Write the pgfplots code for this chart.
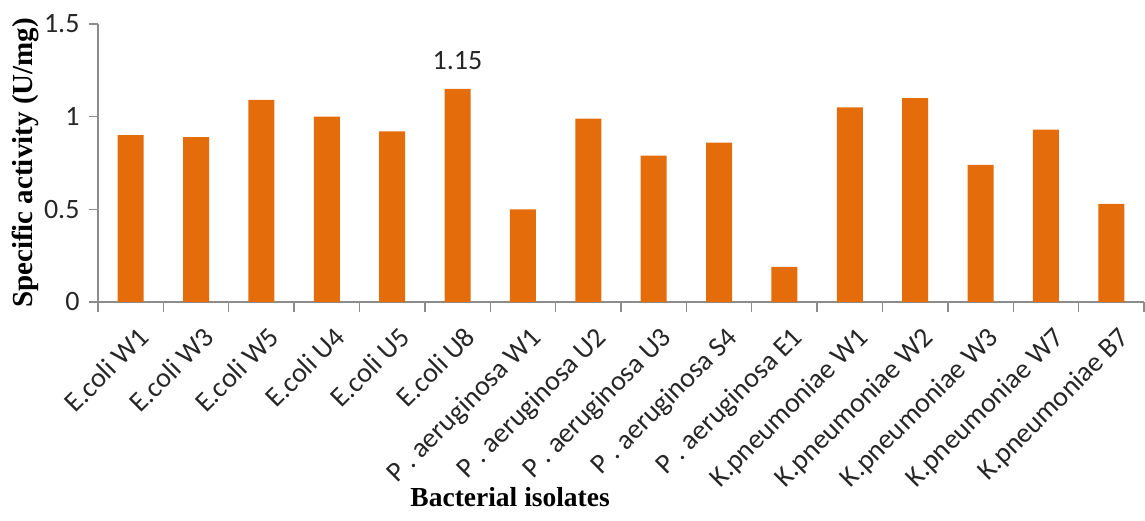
\documentclass[border=0pt]{standalone}
\usepackage{pgfplots}
\pgfplotsset{compat=1.18}
\usepackage{fontspec}
\setmainfont{Carlito}
\newfontfamily\titlefont{Liberation Serif}
\definecolor{barorange}{HTML}{E46C0A}
\definecolor{axisgray}{HTML}{8C8C8C}
\definecolor{labelgray}{HTML}{262626}
\begin{document}
\begin{tikzpicture}
% 1 px of the reference = 1 pt here
\path[use as bounding box] (-98pt,-218pt) rectangle (1047pt,302pt);
\begin{axis}[
  at={(0,0)}, anchor=south west,
  scale only axis, width=1046pt, height=278pt,
  xmin=-0.5, xmax=15.5, ymin=0, ymax=1.5,
  ybar, bar width=26pt,
  axis x line=bottom, axis y line=left,
  axis line style={-, axisgray, line width=1.3pt},
  tick align=outside,
  xtick={0,...,15},
  xticklabels={E.coli W1, E.coli W3, E.coli W5, E.coli U4, E.coli U5, E.coli U8,
    P . aeruginosa W1, P . aeruginosa U2, P . aeruginosa U3, P . aeruginosa S4,
    P . aeruginosa E1, K.pneumoniae W1, K.pneumoniae W2, K.pneumoniae W3,
    K.pneumoniae W7, K.pneumoniae B7},
  major x tick style={draw=none},
  minor xtick={-0.5,0.5,...,15.5},
  minor tick length=10pt,
  minor x tick style={axisgray, line width=1.3pt},
  ytick={0,0.5,1,1.5},
  major tick length=9pt,
  y tick style={axisgray, line width=1.3pt},
  /pgf/number format/assume math mode=true,
  ticklabel style={font=\fontsize{28}{32}\selectfont, text=labelgray},
  xticklabel style={rotate=45, anchor=north east, inner sep=2pt, xshift=-4pt, yshift=-12pt},
  yticklabel style={xshift=-6pt},
  xlabel={\titlefont\bfseries Bacterial isolates},
  ylabel={\titlefont\bfseries Specific activity (U/mg)},
  xlabel style={font=\fontsize{27.5}{31}\selectfont, text=black,
    at={(axis description cs:0.394,-0.70)}, anchor=center},
  ylabel style={font=\fontsize{29}{33}\selectfont, text=black,
    at={(axis description cs:-0.0698,0.5)}, anchor=center, rotate=0},
  clip=false,
]
\addplot[fill=barorange, draw=none, bar shift=0pt] coordinates {
  (0,0.90) (1,0.89) (2,1.09) (3,1.00) (4,0.92) (5,1.15)
  (6,0.50) (7,0.99) (8,0.79) (9,0.86) (10,0.19)
  (11,1.05) (12,1.10) (13,0.74) (14,0.93) (15,0.53)
};
\addplot[draw=none, fill=none, bar shift=0pt, nodes near coords,
  every node near coord/.append style={font=\fontsize{28}{32}\selectfont,
    text=labelgray, yshift=16pt}] coordinates {(5,1.15)};
\end{axis}
\end{tikzpicture}
\end{document}
